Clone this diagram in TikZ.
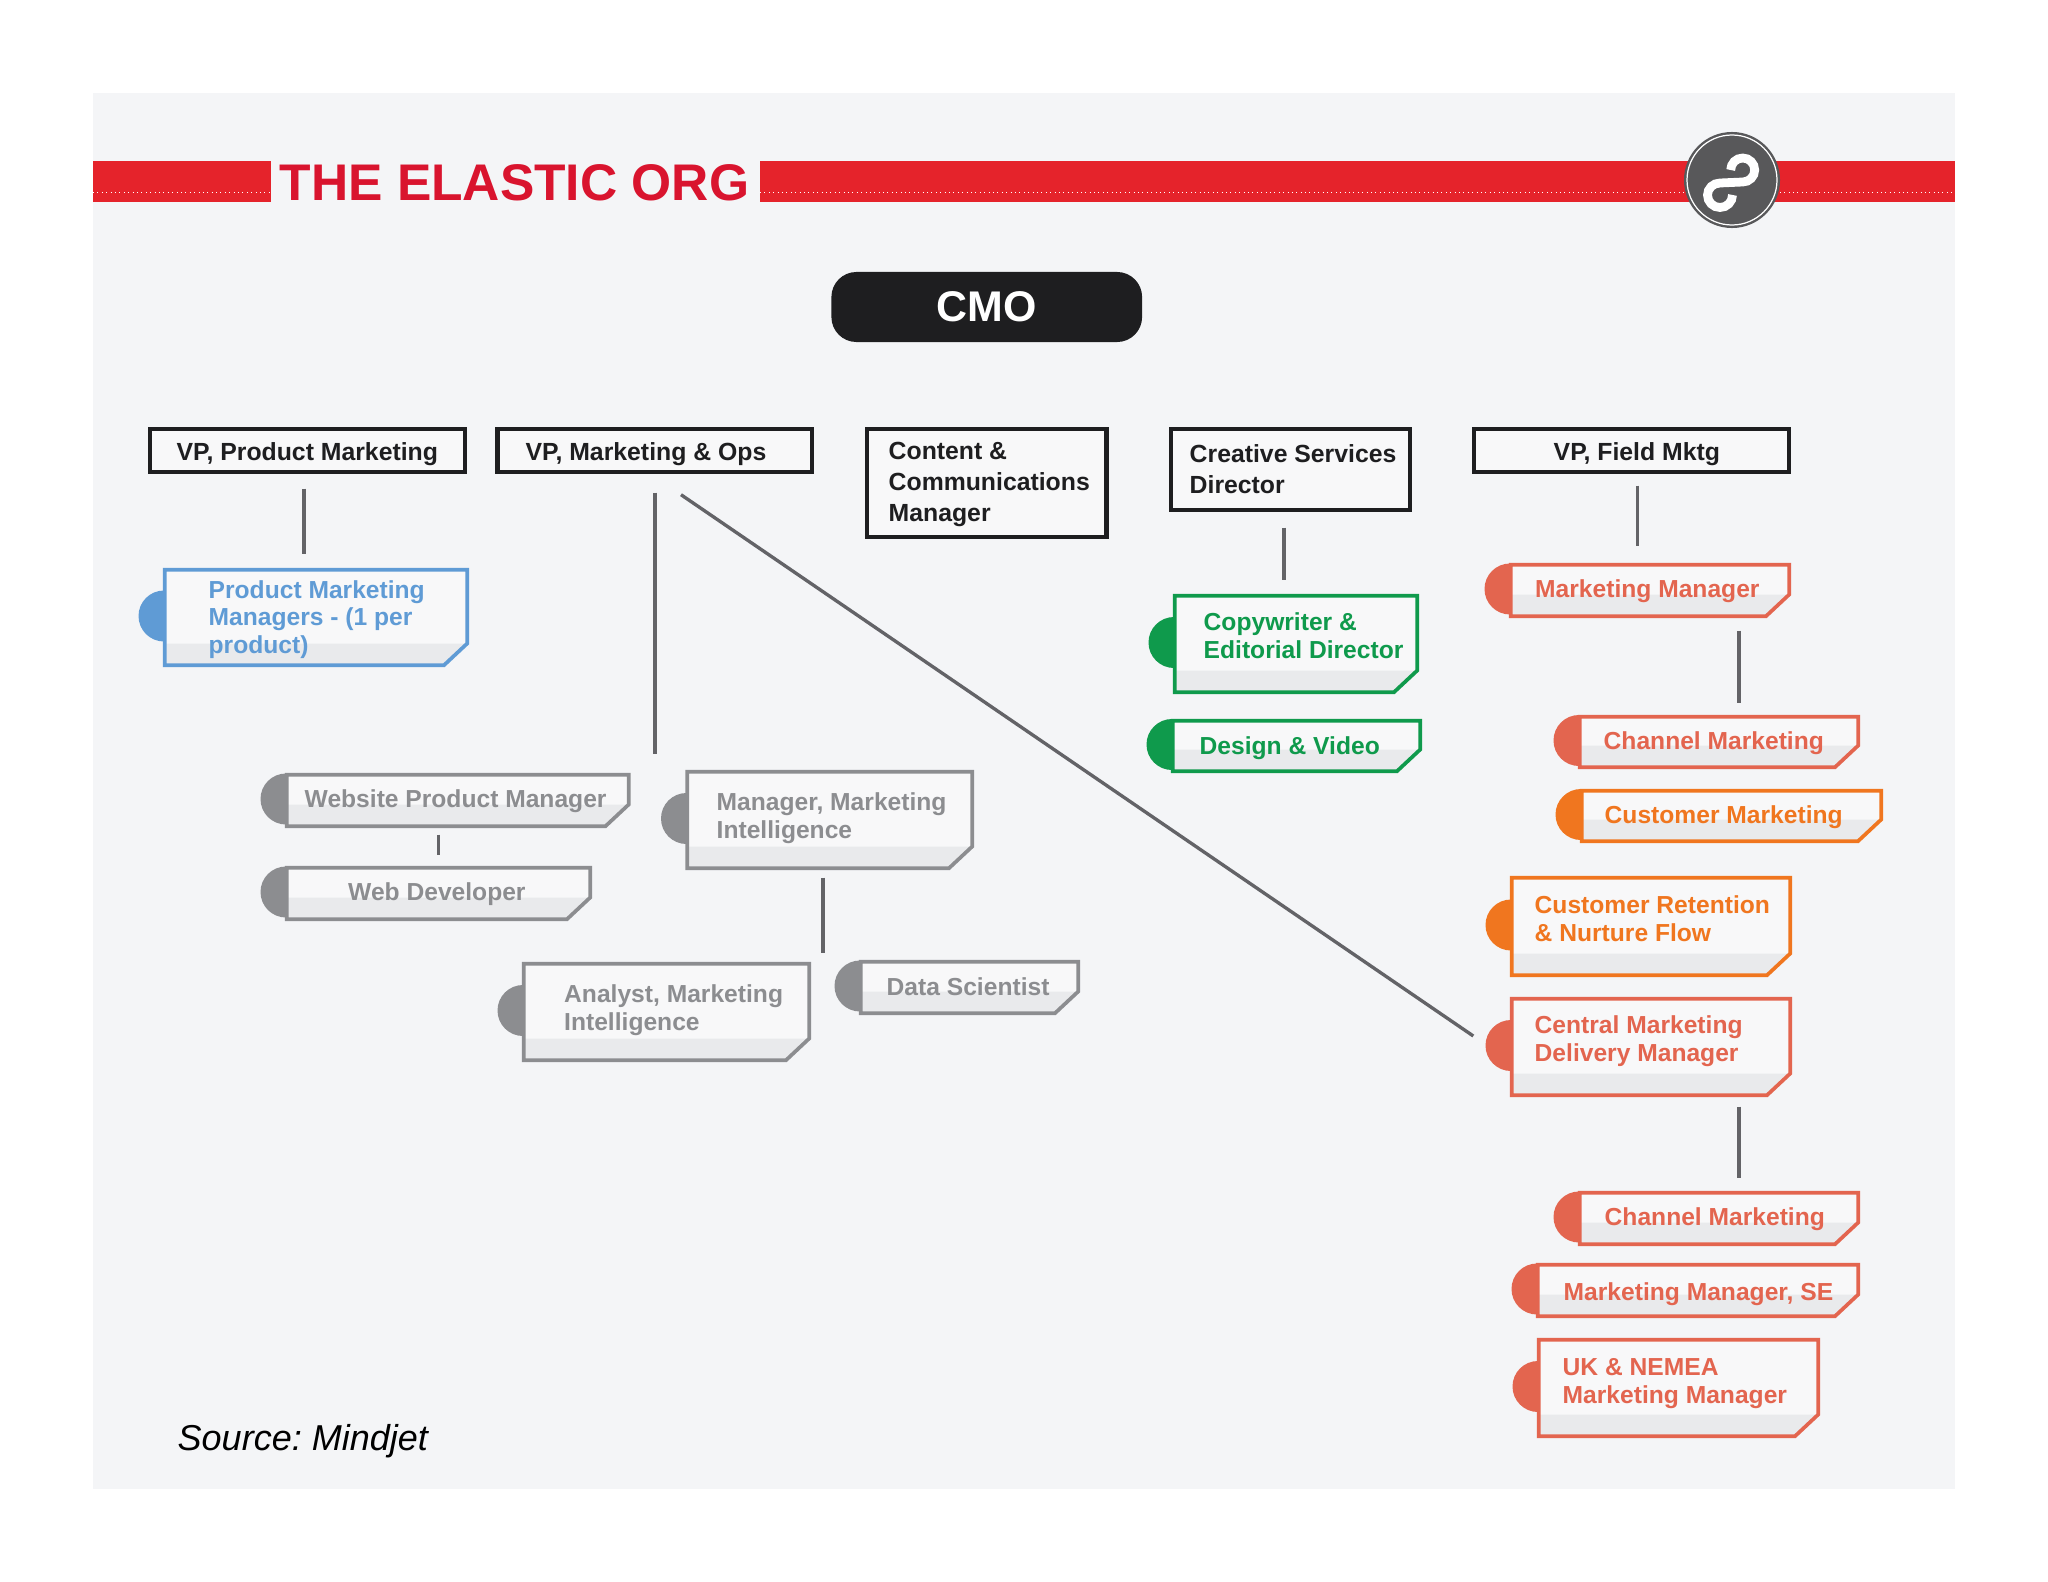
\documentclass[tikz,border=0pt]{standalone}
\usepackage{fontspec}
\setmainfont{Liberation Sans}
\usetikzlibrary{fit}
\AtBeginDocument{\frenchspacing}

\definecolor{sheet}{HTML}{F4F5F7}
\definecolor{bandred}{HTML}{E5232B}
\definecolor{titlered}{HTML}{D9142E}
\definecolor{inkblack}{HTML}{1E1E20}
\definecolor{logogray}{HTML}{58585A}
\definecolor{connline}{HTML}{636367}
\definecolor{tagface}{HTML}{F8F8F9}
\definecolor{tagband}{HTML}{E9EAEC}
\definecolor{tagblue}{HTML}{5F9BD5}
\definecolor{taggreen}{HTML}{0F9A4C}
\definecolor{tagcoral}{HTML}{E3654F}
\definecolor{tagorange}{HTML}{F0761F}
\definecolor{taggray}{HTML}{8C8D90}

\tikzset{
	tagtext/.style={font=\bfseries\fontsize{7}{7.82}\selectfont, align=left, inner sep=0pt, anchor=base west},
	headtext/.style={font=\bfseries\fontsize{7.05}{8.68}\selectfont, align=left, inner sep=0pt, anchor=base west, text=inkblack},
	cmobox/.style={fill=inkblack, text=white, rounded corners=0.25cm, inner sep=0pt, font=\bfseries\fontsize{12.2}{14}\selectfont}
}

\newcommand{\tagbox}[9]{
	\fill[#2] (#3+1,{(#4+#6)/2-1.5}) circle [radius=25.5];
	\fill[tagface] (#3+1.8,#4+1.8) -- (#5-1.8,#4+1.8) -- (#5-1.8,#6-23.5) -- (#5-25,#6-1.8) -- (#3+1.8,#6-1.8) -- cycle;
	\fill[tagband] (#3+1.8,#6-23.5) -- (#5-1.8,#6-23.5) -- (#5-25,#6-1.8) -- (#3+1.8,#6-1.8) -- cycle;
	\draw[#2, line width=1.05pt] (#3+1.8,#4+1.8) -- (#5-1.8,#4+1.8) -- (#5-1.8,#6-23.5) -- (#5-25,#6-1.8) -- (#3+1.8,#6-1.8) -- cycle;
	\coordinate (#1-a) at (#3,#4);
	\coordinate (#1-b) at (#5,#6);
	\node[fit=(#1-a)(#1-b), inner sep=0pt] (#1) {};
	\node[tagtext, text=#2] (#1-t) at (#7,#8) {#9};
}

\newcommand{\headbox}[8]{
	\fill[tagface] (#2,#3) rectangle (#4,#5);
	\draw[inkblack, line width=1.15pt] (#2+2,#3+2) rectangle (#4-2,#5-2);
	\coordinate (#1-a) at (#2,#3);
	\coordinate (#1-b) at (#4,#5);
	\node[fit=(#1-a)(#1-b), inner sep=0pt] (#1) {};
	\node[headtext] (#1-t) at (#6,#7) {#8};
}

\begin{document}
\begin{tikzpicture}[x=0.01cm, y=-0.01cm]
	\useasboundingbox (0,0) rectangle (2048,1582);
	\fill[sheet] (93,93) rectangle (1955,1489);

	\fill[bandred] (93,161) rectangle (271,202);
	\fill[bandred] (760,161) rectangle (1955,202);
	\draw[white, line width=0.25pt, densely dotted] (93,192) -- (271,192);
	\draw[white, line width=0.25pt, densely dotted] (760,192) -- (1955,192);
	\node[anchor=base west, inner sep=0pt, text=titlered, font=\bfseries\fontsize{14.65}{16}\selectfont] (title) at (279,201) {THE ELASTIC ORG};

	\node[circle, fill=logogray, inner sep=0pt, minimum size=0.96cm] (logo) at (1732,180) {};
	\draw[white, line width=0.35pt] (logo) circle [radius=45];
	\draw[white, line width=2.5pt] (1730.7,170) .. controls (1730.7,163.4) and (1736.1,158) .. (1742.7,158) .. controls (1749.3,158) and (1754.7,163.4) .. (1754.7,170) .. controls (1754.7,176.6) and (1749.3,182) .. (1742.7,182) -- (1720,183) .. controls (1713.1,183) and (1707.5,188.5) .. (1707.5,195) .. controls (1707.5,201.9) and (1713,207.5) .. (1720,207.5) .. controls (1727,207.5) and (1732.5,201.9) .. (1732.5,195);

	\node[cmobox, minimum width=3.105cm, minimum height=0.7cm] (cmo) at (986.75,307) {CMO};

	\headbox{vpprod}{148}{427}{467}{474}{176}{460}{VP, Product Marketing}
	\headbox{vpops}{495.5}{427}{814}{474}{525}{460}{VP, Marketing \& Ops}
	\headbox{content}{865}{427}{1108.5}{539}{888}{521}{Content \&\\Communications\\Manager}
	\headbox{creative}{1169}{427}{1412}{512}{1189}{493}{Creative Services\\Director}
	\headbox{vpfield}{1472}{427}{1791}{474}{1553}{460}{VP, Field Mktg}

	\tagbox{pmm}{tagblue}{163}{568}{469}{667}{208}{653}{Product Marketing\\Managers - (1 per\\product)}

	\tagbox{webpm}{taggray}{285}{773}{630.5}{828}{304}{807}{Website Product Manager}
	\tagbox{webdev}{taggray}{285}{866}{592}{921}{347.5}{900}{Web Developer}
	\tagbox{mgrmi}{taggray}{685.5}{770}{974}{870}{716}{838}{Manager, Marketing\\Intelligence}
	\tagbox{anami}{taggray}{522}{962}{811}{1062}{563.5}{1030}{Analyst, Marketing\\Intelligence}
	\tagbox{datasci}{taggray}{859}{960}{1080}{1015}{886}{995}{Data Scientist}

	\tagbox{copyw}{taggreen}{1173}{594}{1419}{694}{1203}{658}{Copywriter \&\\Editorial Director}
	\tagbox{design}{taggreen}{1171}{719}{1422}{773}{1199}{754}{Design \& Video}

	\tagbox{mktmgr}{tagcoral}{1509}{563}{1791}{618}{1534.5}{597}{Marketing Manager}
	\tagbox{chanone}{tagcoral}{1578}{715}{1860}{769}{1603}{749}{Channel Marketing}
	\tagbox{custmkt}{tagorange}{1580}{789}{1883}{843}{1604}{823}{Customer Marketing}
	\tagbox{custret}{tagorange}{1510}{876}{1792}{977}{1534}{941}{Customer Retention\\\& Nurture Flow}
	\tagbox{central}{tagcoral}{1510}{997}{1792}{1097}{1534}{1061}{Central Marketing\\Delivery Manager}
	\tagbox{chantwo}{tagcoral}{1578}{1191}{1860}{1246}{1604}{1225}{Channel Marketing}
	\tagbox{mktse}{tagcoral}{1536}{1263}{1860}{1318}{1563}{1300}{Marketing Manager, SE}
	\tagbox{uknemea}{tagcoral}{1537}{1338}{1820}{1438}{1562}{1403}{UK \& NEMEA\\Marketing Manager}

	\begin{scope}[every edge/.style={draw=connline, line width=0.95pt}]
		\path ([shift={(-3.5,14)}]vpprod.south) edge ([shift={(-12,-13)}]pmm.north);
		\path ([shift={(0.25,18)}]vpops.south) edge ([shift={(197.25,-18)}]webpm.north);
		\path ([shift={(26.25,20)}]vpops.south) edge ([shift={(-36,-11)}]central.west);
		\path ([shift={(-19,6)}]webpm.south) edge ([shift={(-19,-10)}]webpm.south |- webdev.north);
		\path ([shift={(-6.75,7)}]mgrmi.south) edge ([shift={(-6.75,-8)}]mgrmi.south |- anami.north);
		\path ([shift={(-6.5,15)}]creative.south) edge ([shift={(-12,-13)}]copyw.north);
		\path ([shift={(6,11)}]vpfield.south) edge ([shift={(-12.5,-16)}]mktmgr.north);
		\path ([shift={(89,12)}]mktmgr.south) edge ([shift={(20,-11)}]chanone.north);
		\path ([shift={(88,9)}]central.south) edge ([shift={(20,-12)}]chantwo.north);
	\end{scope}

	\node[anchor=base west, inner sep=0pt, text=black, font=\itshape\fontsize{10.24}{12}\selectfont] (source) at (177,1450) {Source: Mindjet};
\end{tikzpicture}
\end{document}
